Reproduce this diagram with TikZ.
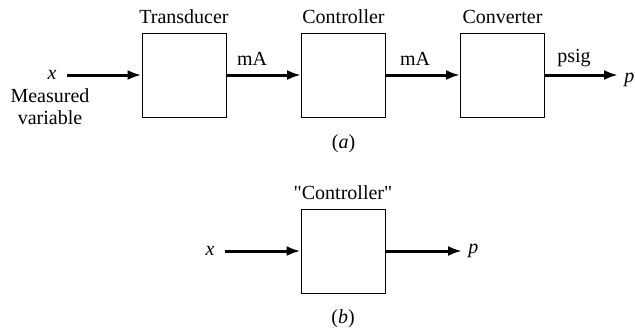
\documentclass[tikz,border=0pt]{standalone}
\usepackage{fontspec}
\setmainfont{Liberation Serif}
\usetikzlibrary{arrows.meta}

\begin{document}
\begin{tikzpicture}[x=0.5pt,y=0.5pt,
  blk/.style={draw,line width=0.5pt,minimum width=42pt,minimum height=42pt,inner sep=0pt},
  sig/.style={line width=1.5pt,-{Latex[length=7pt,width=5pt]}},
  lbl/.style={anchor=base,inner sep=0pt}]
\useasboundingbox (0,0) rectangle (635,333);
% (a) transducer -> controller -> converter
\node[blk] (tr) at (184,258) {};
\node[blk] (ct) at (343.5,258) {};
\node[blk] (cv) at (502.5,258) {};
\node[lbl] (trt) at (184,309) {Transducer};
\node[lbl] (ctt) at (343.5,309) {Controller};
\node[lbl] (cvt) at (502.5,309) {Converter};
\node[anchor=east,inner xsep=5pt,inner ysep=0pt] (xa) at (67,258) {\textit{x}};
\node[anchor=north,inner sep=0pt,align=center,font=\fontsize{10}{11}\selectfont] (meas) at (50,245) {Measured\\variable};
\node[anchor=west,inner xsep=3pt,inner ysep=0pt] (pa) at (618,253) {\textit{p}};
\draw[sig] (xa) -- (tr);
\draw[sig] (tr) -- (ct);
\draw[sig] (ct) -- (cv);
\draw[sig] (cv) -- (cv -| pa.west);
\node[lbl] (ma1) at (252,267.5) {mA};
\node[lbl] (ma2) at (415,267.5) {mA};
\node[lbl] (psig) at (574,270.5) {psig};
\node[lbl] (capa) at (343.5,185) {(\textit{a})};
% (b) lumped controller
\node[blk] (cb) at (343,82) {};
\node[lbl] (cbt) at (343,133.5) {\textquotedbl Controller\textquotedbl};
\node[anchor=west,inner xsep=3pt,inner ysep=0pt] (pb) at (462,82) {\textit{p}};
\node[anchor=east,inner xsep=5pt,inner ysep=0pt] (xb) at (225,82) {\textit{x}};
\draw[sig] (xb) -- (cb);
\draw[sig] (cb) -- (pb);
\node[lbl] (capb) at (343,9.5) {(\textit{b})};
\end{tikzpicture}
\end{document}
